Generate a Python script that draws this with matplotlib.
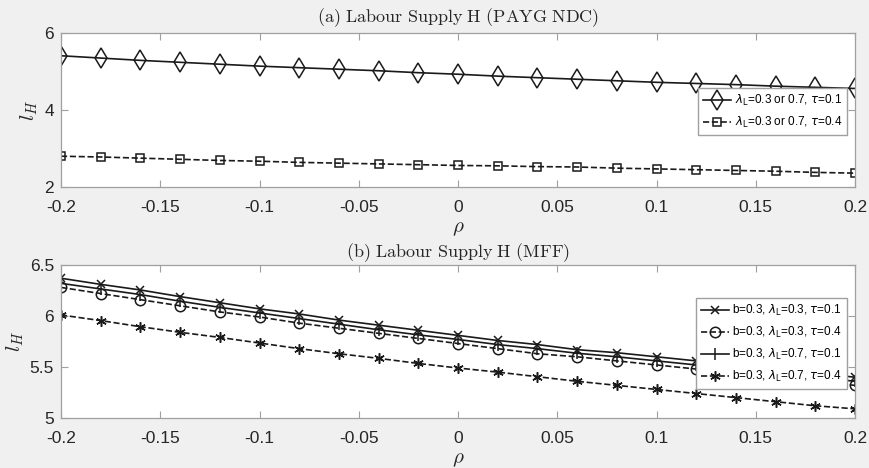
import numpy as np
import matplotlib
matplotlib.use("Agg")
import matplotlib.pyplot as plt

plt.rcParams['font.family'] = ['Liberation Sans', 'DejaVu Sans']
plt.rcParams['axes.unicode_minus'] = False

rho = [-0.2, -0.18, -0.16, -0.14, -0.12, -0.1, -0.08, -0.06, -0.04, -0.02, 0.0,
       0.02, 0.04, 0.06, 0.08, 0.1, 0.12, 0.14, 0.16, 0.18, 0.2]

# (a) PAYG NDC
ndc_tau01 = [5.41, 5.35, 5.29, 5.24, 5.19, 5.14, 5.10, 5.06, 5.02, 4.97, 4.93,
             4.88, 4.84, 4.80, 4.76, 4.72, 4.69, 4.66, 4.62, 4.59, 4.56]
ndc_tau04 = [2.80, 2.78, 2.75, 2.72, 2.69, 2.67, 2.64, 2.62, 2.60, 2.58, 2.56,
             2.55, 2.53, 2.52, 2.49, 2.47, 2.45, 2.43, 2.41, 2.38, 2.36]

# (b) MFF
mff_l03_t01 = [6.37, 6.31, 6.255, 6.19, 6.13, 6.07, 6.02, 5.96, 5.91, 5.86, 5.81,
               5.76, 5.72, 5.67, 5.64, 5.60, 5.56, 5.52, 5.48, 5.44, 5.40]
mff_l03_t04 = [6.28, 6.22, 6.16, 6.10, 6.04, 5.99, 5.93, 5.88, 5.83, 5.78, 5.73,
               5.68, 5.63, 5.60, 5.56, 5.52, 5.48, 5.44, 5.40, 5.36, 5.32]
mff_l07_t01 = [6.32, 6.265, 6.21, 6.145, 6.085, 6.03, 5.975, 5.92, 5.865, 5.815, 5.77,
               5.72, 5.68, 5.635, 5.60, 5.56, 5.52, 5.48, 5.44, 5.40, 5.36]
mff_l07_t04 = [6.01, 5.955, 5.895, 5.84, 5.79, 5.735, 5.68, 5.63, 5.585, 5.535, 5.49,
               5.45, 5.405, 5.36, 5.32, 5.28, 5.24, 5.20, 5.16, 5.12, 5.09]

labels_a = [r'$\lambda_{\rm L}$=0.3 or 0.7, $\tau$=0.1',
            r'$\lambda_{\rm L}$=0.3 or 0.7, $\tau$=0.4']
labels_b = [r'b=0.3, $\lambda_{\rm L}$=0.3, $\tau$=0.1',
            r'b=0.3, $\lambda_{\rm L}$=0.3, $\tau$=0.4',
            r'b=0.3, $\lambda_{\rm L}$=0.7, $\tau$=0.1',
            r'b=0.3, $\lambda_{\rm L}$=0.7, $\tau$=0.4']

xticks = [-0.2, -0.15, -0.1, -0.05, 0, 0.05, 0.1, 0.15, 0.2]
xticklabels = ['-0.2', '-0.15', '-0.1', '-0.05', '0', '0.05', '0.1', '0.15', '0.2']

BG = '#f0f0f0'
LC = '#1a1a1a'
SC = '#a0a0a0'

fig = plt.figure(figsize=(8.69, 4.68), dpi=100, facecolor=BG)
ax1 = fig.add_axes([0.0702, 0.6004, 0.9137, 0.329])
ax2 = fig.add_axes([0.0702, 0.1068, 0.9137, 0.327])

def style(ax, yticks, yticklabels, ylim):
    ax.set_xlim(-0.2, 0.2)
    ax.set_ylim(*ylim)
    ax.set_xticks(xticks)
    ax.set_xticklabels(xticklabels)
    ax.set_yticks(yticks)
    ax.set_yticklabels(yticklabels)
    ax.tick_params(direction='in', top=True, right=True, length=5, width=0.8,
                   color=SC, labelsize=12.5, labelcolor='#262626')
    ax.tick_params(axis='x', pad=9)
    ax.tick_params(axis='y', pad=5)
    for s in ax.spines.values():
        s.set_color(SC)
        s.set_linewidth(0.9)
    ax.set_facecolor('white')
    ax.set_ylabel(r'$l_H$', fontsize=15, math_fontfamily='cm', color='#262626', labelpad=3)
    ax.set_xlabel(r'$\rho$', fontsize=15, math_fontfamily='cm', color='#262626', labelpad=3)

mk = dict(markerfacecolor='none', markeredgecolor=LC, markeredgewidth=1.1)

ax1.plot(rho, ndc_tau01, '-', color=LC, lw=1.2, marker='d', markersize=10, label=labels_a[0], **mk)
ax1.plot(rho, ndc_tau04, '--', color=LC, lw=1.2, marker='s', markersize=5.5, label=labels_a[1], **mk)
style(ax1, [2, 4, 6], ['2', '4', '6'], (2, 6))
ax1.set_title(r'$\mathrm{(a)\ Labour\ Supply\ H\ (PAYG\ NDC)}$', fontsize=13,
              math_fontfamily='cm', pad=8, color='#262626')
ax1.legend(loc='upper right', bbox_to_anchor=(0.99, 0.643), borderaxespad=0,
           fontsize=8.5, handlelength=2.4, labelspacing=0.6, borderpad=0.4,
           handletextpad=0.3, fancybox=False, edgecolor=SC, framealpha=1)

ax2.plot(rho, mff_l03_t01, '-', color=LC, lw=1.2, marker='x', markersize=6, label=labels_b[0], **mk)
ax2.plot(rho, mff_l03_t04, '--', color=LC, lw=1.2, marker='o', markersize=7.5, label=labels_b[1], **mk)
ax2.plot(rho, mff_l07_t01, '-', color=LC, lw=1.2, marker='|', markersize=9, label=labels_b[2], **mk)
ax2.plot(rho, mff_l07_t04, '--', color=LC, lw=1.2, marker=(6, 2, 0), markersize=7.5, label=labels_b[3], **mk)
style(ax2, [5, 5.5, 6, 6.5], ['5', '5.5', '6', '6.5'], (5, 6.5))
ax2.set_title(r'$\mathrm{(b)\ Labour\ Supply\ H\ (MFF)}$', fontsize=13,
              math_fontfamily='cm', pad=5.5, color='#262626')
ax2.legend(loc='upper right', bbox_to_anchor=(0.99, 0.784), borderaxespad=0,
           fontsize=8.5, handlelength=2.4, labelspacing=0.6, borderpad=0.4,
           handletextpad=0.3, fancybox=False, edgecolor=SC, framealpha=1)

fig.savefig('out.png', dpi=100, facecolor=BG)
